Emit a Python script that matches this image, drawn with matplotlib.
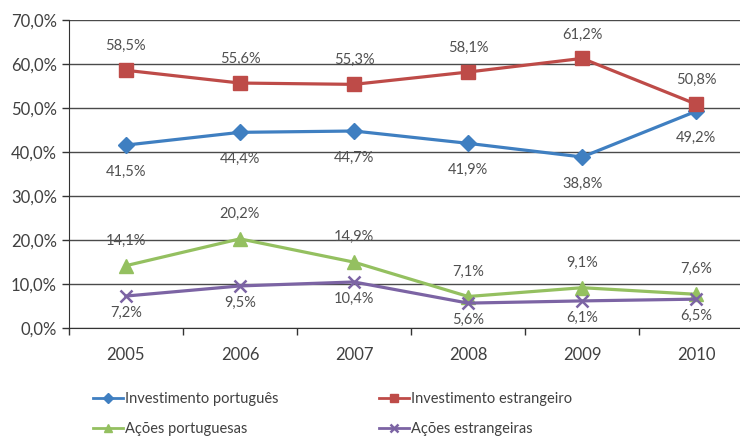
import matplotlib.pyplot as plt
from matplotlib.ticker import FuncFormatter

YEARS = ['2005', '2006', '2007', '2008', '2009', '2010']

INV_PT = [41.5, 44.4, 44.7, 41.9, 38.8, 49.2]
INV_EST = [58.5, 55.6, 55.3, 58.1, 61.2, 50.8]
ACOES_PT = [14.1, 20.2, 14.9, 7.1, 9.1, 7.6]
ACOES_EST = [7.2, 9.5, 10.4, 5.6, 6.1, 6.5]

TXT = '#404040'
plt.rcParams['font.family'] = ['Lato', 'DejaVu Sans']

fig = plt.figure(figsize=(7.4, 4.37), dpi=100)
ax = fig.add_axes([0.093, 0.25, 0.925, 0.705])

# (label, values, color, marker, markersize, label offset in px: + above, - below)
series = [
    ('Investimento português', INV_PT, '#3f7fc1', 'D', 8, -27),
    ('Ações portuguesas', ACOES_PT, '#94c060', '^', 10, 25),
    ('Investimento estrangeiro', INV_EST, '#be4b48', 's', 10, 24),
    ('Ações estrangeiras', ACOES_EST, '#7c64a4', 'x', 9, -17),
]

x = list(range(len(YEARS)))
for name, vals, col, mk, ms, off in series:
    ax.plot(x, vals, color=col, lw=2.3, marker=mk, markersize=ms,
            markeredgewidth=1.8 if mk == 'x' else 1, markeredgecolor=col,
            label=name, zorder=3)
    for xi, v in zip(x, vals):
        lbl = f'{v:.1f}%'.replace('.', ',')
        ax.annotate(lbl, (xi, v), xytext=(0, off * 0.72), textcoords='offset points',
                    ha='center', va='center', fontsize=10.5, color='#505050')

ax.set_xlim(-0.5, 5.5)
ax.set_ylim(0, 70)
ax.set_yticks(range(0, 71, 10))
ax.yaxis.set_major_formatter(FuncFormatter(lambda v, p: f'{v:.1f}%'.replace('.', ',')))
ax.set_xticks(x)
ax.set_xticklabels(YEARS)
ax.set_xticks([i - 0.5 for i in range(len(YEARS) + 1)], minor=True)
ax.tick_params(axis='x', which='major', length=0, pad=14, labelsize=12, labelcolor=TXT)
ax.tick_params(axis='x', which='minor', length=5, width=1, color='#333333')
ax.tick_params(axis='y', length=5, width=1, color='#333333', labelsize=12, labelcolor=TXT)
ax.grid(axis='y', color='#4a4a4a', lw=1)
ax.set_axisbelow(True)
for s in ['top', 'right']:
    ax.spines[s].set_visible(False)
ax.spines['left'].set_color('#333333')
ax.spines['bottom'].set_color('#333333')

leg = fig.legend(loc='upper left', bbox_to_anchor=(0.125, 0.103), ncol=2, frameon=False,
                 fontsize=10.5, labelcolor=TXT, handlelength=2.1, handletextpad=0.1,
                 columnspacing=6.9, labelspacing=1.1, borderaxespad=0, borderpad=0,
                 markerscale=0.6)
for ln in leg.get_lines():
    ln.set_linewidth(2.0)

fig.savefig('out.png', dpi=100)
